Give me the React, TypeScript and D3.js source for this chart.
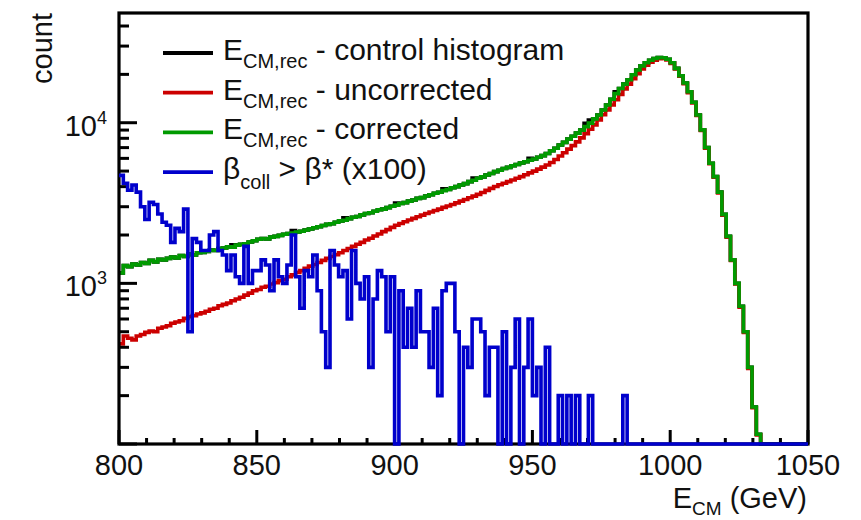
import React from "react";
import * as d3 from "d3";

const X_MIN = 800;
const X_MAX = 1050;
const N_BINS = 160;
const Y_MIN = 100;
const Y_MAX = 48200;

const X_MAJOR_TICKS = [800, 850, 900, 950, 1000, 1050];
const Y_LABEL_TICKS = [1000, 10000];

// E_CM,rec - corrected (green)
const corrected = [
  1160, 1290, 1270, 1320, 1300, 1350, 1330, 1390, 1360, 1410,
  1400, 1430, 1460, 1440, 1490, 1470, 1520, 1500, 1550, 1560,
  1580, 1610, 1600, 1650, 1660, 1690, 1680, 1730, 1750, 1760,
  1810, 1840, 1880, 1900, 1890, 1940, 1960, 1990, 2020, 2040,
  2060, 2090, 2110, 2150, 2180, 2220, 2250, 2290, 2330, 2350,
  2400, 2450, 2470, 2530, 2580, 2610, 2670, 2720, 2750, 2810,
  2870, 2900, 2960, 3020, 3070, 3140, 3180, 3250, 3300, 3380,
  3420, 3500, 3560, 3640, 3690, 3780, 3840, 3940, 4000, 4100,
  4180, 4300, 4380, 4510, 4600, 4730, 4830, 4960, 5060, 5190,
  5270, 5400, 5490, 5620, 5710, 5840, 5950, 6100, 6240, 6430,
  6690, 6940, 7260, 7540, 7910, 8240, 8610, 8990, 9460, 9940,
  10560, 11180, 12010, 12880, 14010, 15180, 16320, 17390, 18520, 19880,
  21310, 22580, 23620, 24480, 25120, 25480, 25370, 24820, 23600, 21790,
  19620, 17680, 15590, 13420, 11180, 9020, 7010, 5590, 4620, 3700,
  2690, 1960, 1400, 1000, 720, 500, 300, 170, 115, 55,
  0, 0, 0, 0, 0, 0, 0, 0, 0, 0,
];

// E_CM,rec - uncorrected (red)
const uncorrected = [
  420, 470, 455, 445, 470, 480, 495, 505, 500, 525,
  535, 545, 565, 575, 585, 605, 620, 630, 645, 655,
  670, 690, 700, 725, 740, 755, 780, 800, 820, 845,
  870, 900, 915, 945, 960, 990, 1010, 1040, 1060, 1100,
  1130, 1170, 1200, 1240, 1280, 1310, 1350, 1390, 1430, 1470,
  1510, 1550, 1600, 1650, 1700, 1750, 1800, 1860, 1910, 1970,
  2030, 2100, 2160, 2230, 2300, 2360, 2420, 2480, 2540, 2600,
  2660, 2720, 2780, 2840, 2900, 2970, 3030, 3100, 3170, 3250,
  3330, 3410, 3490, 3580, 3680, 3790, 3900, 4010, 4110, 4200,
  4300, 4400, 4510, 4620, 4740, 4870, 5000, 5140, 5290, 5450,
  5650, 5900, 6200, 6500, 6850, 7200, 7600, 8050, 8550, 9100,
  9700, 10400, 11200, 12000, 12900, 13900, 15000, 16200, 17400, 18800,
  20200, 21600, 22800, 23800, 24500, 25000, 25100, 24600, 23400, 21600,
  19500, 17500, 15400, 13300, 11100, 8950, 6950, 5550, 4580, 3660,
  2660, 1940, 1390, 990, 710, 495, 295, 168, 114, 52,
  0, 0, 0, 0, 0, 0, 0, 0, 0, 0,
];

// E_CM,rec - control histogram (black): equal to corrected except these bins
const controlOverrides: [number, number][] = [
  [26, 1740], [40, 2130], [52, 2560], [64, 3160], [75, 3880],
  [82, 4520], [95, 6000], [108, 9900], [109, 10400], [115, 15600],
];

// beta_coll > beta* (x100) (blue)
const betaColl = [
  4700, 4200, 3800, 4100, 3700, 3000, 2500, 3200, 3100, 2700,
  2400, 2300, 1800, 2200, 2100, 2900, 500, 1900, 1800, 1600,
  1600, 2000, 2100, 1600, 1500, 1200, 1500, 1100, 1000, 1700,
  1000, 1200, 1200, 1400, 1300, 900, 1400, 1100, 1000, 1300,
  2000, 1100, 700, 1200, 1100, 1500, 900, 500, 300, 1600,
  1300, 1100, 1200, 600, 1600, 1000, 800, 1100, 300, 800,
  1200, 1100, 500, 1100, 0, 900, 400, 700, 400, 900,
  500, 500, 300, 700, 200, 900, 1000, 1000, 500, 0,
  400, 300, 600, 600, 500, 200, 400, 400, 0, 500,
  0, 300, 600, 0, 300, 600, 200, 300, 0, 400,
  0, 0, 200, 0, 200, 0, 200, 0, 0, 200,
  0, 0, 0, 0, 0, 0, 0, 200, 0, 0,
  0, 0, 0, 0, 0, 0, 0, 0, 0, 0,
  0, 0, 0, 0, 0, 0, 0, 0, 0, 0,
  0, 0, 0, 0, 0, 0, 0, 0, 0, 0,
  0, 0, 0, 0, 0, 0, 0, 0, 0, 0,
];

const legendItems = [
  { color: "#000000", main: "E", sub: "CM,rec", rest: " - control histogram" },
  { color: "#cc0000", main: "E", sub: "CM,rec", rest: " - uncorrected" },
  { color: "#009a00", main: "E", sub: "CM,rec", rest: " - corrected" },
  { color: "#0000cc", main: "\u03B2", sub: "coll", rest: " > \u03B2* (x100)" },
];

const FONT = "'Liberation Sans', Arial, Helvetica, sans-serif";

export default function App() {
  const W = 861;
  const H = 520;
  const left = 119, right = 808, top = 13, bottom = 444;

  const x = d3.scaleLinear().domain([X_MIN, X_MAX]).range([left, right]);
  const y = d3.scaleLog().domain([Y_MIN, Y_MAX]).range([bottom, top]);
  const binW = (X_MAX - X_MIN) / N_BINS;

  const control = corrected.slice();
  controlOverrides.forEach(([i, v]) => (control[i] = v));

  const yv = (v: number) => y(Math.min(Math.max(v, Y_MIN), Y_MAX));

  const histPath = (vals: number[]) => {
    let d = "";
    vals.forEach((v, i) => {
      const x0 = x(X_MIN + i * binW);
      const x1 = x(X_MIN + (i + 1) * binW);
      const yy = yv(v);
      d += (i === 0 ? "M" : "L") + x0.toFixed(2) + "," + yy.toFixed(2);
      d += "L" + x1.toFixed(2) + "," + yy.toFixed(2);
    });
    return d;
  };

  const yTicks: { v: number; major: boolean }[] = [];
  [100, 1000, 10000].forEach((dec) => {
    for (let k = 1; k <= 9; k++) {
      const v = dec * k;
      if (v >= Y_MIN && v <= Y_MAX) yTicks.push({ v, major: k === 1 });
    }
  });
  const xTicks: { v: number; major: boolean }[] = [];
  for (let v = X_MIN; v <= X_MAX; v += 10) {
    xTicks.push({ v, major: v % 50 === 0 });
  }

  const legendY0 = 53;
  const legendDY = 39.7;
  const LW = 3.6;

  return (
    <svg
      width={W}
      height={H}
      style={{ position: "absolute", left: 0, top: 0, background: "#fff" }}
      fontFamily={FONT}
    >
      <defs>
        <clipPath id="plotclip">
          <rect x={left} y={top - 2} width={right - left + 2} height={bottom - top + 4} />
        </clipPath>
      </defs>
      <rect x={0} y={0} width={W} height={H} fill="#fff" />

      <g clipPath="url(#plotclip)" fill="none" strokeWidth={LW} strokeLinejoin="miter">
        <path d={histPath(control)} stroke="#000000" />
        <path d={histPath(uncorrected)} stroke="#cc0000" />
        <path d={histPath(corrected)} stroke="#009a00" />
      </g>

      <rect
        x={left}
        y={top}
        width={right - left}
        height={bottom - top}
        fill="none"
        stroke="#000"
        strokeWidth={3.2}
      />

      {yTicks.map((t) => (
        <line
          key={"yt" + t.v}
          x1={left}
          x2={left + (t.major ? 18 : 10)}
          y1={y(t.v)}
          y2={y(t.v)}
          stroke="#000"
          strokeWidth={3}
        />
      ))}
      {xTicks.map((t) => (
        <line
          key={"xt" + t.v}
          x1={x(t.v)}
          x2={x(t.v)}
          y1={bottom}
          y2={bottom - (t.major ? 14 : 6)}
          stroke="#000"
          strokeWidth={3}
        />
      ))}

      <g clipPath="url(#plotclip)" fill="none" strokeWidth={LW}>
        <path d={histPath(betaColl)} stroke="#0000cc" />
      </g>

      {X_MAJOR_TICKS.map((v) => (
        <text key={"xl" + v} x={x(v)} y={475} textAnchor="middle" fontSize={29} fill="#111">
          {v}
        </text>
      ))}
      {Y_LABEL_TICKS.map((v) => (
        <text key={"yl" + v} x={107} y={y(v) + 13} textAnchor="end" fontSize={29} fill="#111">
          10
          <tspan dy={-12} fontSize={18}>
            {Math.round(Math.log10(v))}
          </tspan>
        </text>
      ))}

      <text
        transform={`translate(52,${top}) rotate(-90)`}
        textAnchor="end"
        fontSize={29}
        fill="#111"
      >
        count
      </text>
      <text x={807} y={508} textAnchor="end" fontSize={29} fill="#111">
        E
        <tspan dy={7} fontSize={19}>
          CM
        </tspan>
        <tspan dy={-7}> (GeV)</tspan>
      </text>

      {legendItems.map((it, i) => {
        const ly = legendY0 + i * legendDY;
        return (
          <g key={"lg" + i}>
            <line x1={163} x2={213} y1={ly} y2={ly} stroke={it.color} strokeWidth={3.8} />
            <text x={223} y={ly + 7} fontSize={30} fill="#111">
              {it.main}
              <tspan dy={i === 3 ? 10 : 8} fontSize={20}>
                {it.sub}
              </tspan>
              <tspan dy={i === 3 ? -10 : -8}>{it.rest}</tspan>
            </text>
          </g>
        );
      })}
    </svg>
  );
}
